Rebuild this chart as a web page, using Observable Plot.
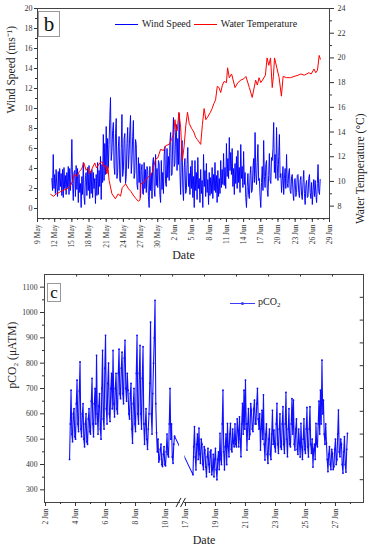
<!DOCTYPE html>
<html><head><meta charset="utf-8">
<script src="https://cdn.jsdelivr.net/npm/d3@7"></script>
<script src="https://cdn.jsdelivr.net/npm/@observablehq/plot@0.6"></script>
<style>
body{margin:0;background:#fff;font-family:"Liberation Serif","Times New Roman",serif;}
#wrap{position:relative;width:368px;height:550px;overflow:hidden;}
#wrap svg{display:block;}
#wrap svg text{font-family:"Liberation Serif","Times New Roman",serif !important;}
.box{position:absolute;border:1px solid #999;background:#fff;color:#111;display:flex;align-items:center;justify-content:center;box-sizing:border-box;font-family:"Liberation Serif",serif;line-height:1;}
.leg{position:absolute;display:flex;align-items:center;font-family:"Liberation Serif",serif;font-size:10px;color:#222;white-space:nowrap;line-height:1;}
.sw{display:inline-block;height:0;border-top:1px solid;position:relative;}
</style></head><body><div id="wrap"></div>
<script>
// ---------- Panel b data ----------
// day index counted from 1 May (June d = 31 + d)
const windStartDay = 11.5;
const windStep = 0.125;
const windSpeed = [
  3.0, 1.8, 5.4, 2.0, 3.4, 1.5, 3.9, 2.2,
  1.2, 3.7, 1.8, 4.0, 2.2, 3.5, 1.3, 3.9,
  1.1, 4.1, 2.0, 3.3, 1.4, 3.6, 2.1, 4.2,
  1.4, 4.0, 1.8, 3.4, 6.9, 2.5, 0.8, 3.6,
  3.8, 1.2, 4.3, 1.9, 4.0, 0.6, 3.4, 1.6,
  2.5, 0.1, 3.2, 1.4, 4.6, 1.2, 0.4, 3.3,
  3.6, 1.3, 4.1, 1.8, 4.3, 1.0, 3.7, 1.5,
  3.9, 1.1, 3.6, 2.0, 3.0, 0.5, 3.4, 1.3,
  4.6, 1.4, 3.8, 2.2, 5.2, 0.9, 4.4, 2.6,
  7.4, 2.8, 6.5, 3.4, 8.2, 3.6, 7.0, 4.1,
  6.4, 9.0, 11.1, 4.8, 5.7, 7.8, 8.6, 4.2,
  3.4, 7.5, 9.0, 3.0, 3.6, 6.2, 7.2, 2.8,
  2.6, 6.0, 9.4, 3.2, 3.8, 7.0, 7.5, 2.5,
  3.2, 6.5, 8.1, 4.0, 5.4, 7.8, 9.3, 3.5,
  4.7, 7.2, 8.8, 3.0, 3.6, 6.9, 6.4, 2.4,
  1.9, 5.1, 2.6, 4.5, 1.1, 3.8, 4.4, 1.5,
  1.4, 4.6, 2.0, 3.9, 1.6, 4.2, 3.8, 1.2,
  0.1, 4.2, 1.8, 3.5, 1.0, 4.6, 5.1, 2.0,
  1.2, 5.4, 2.3, 4.0, 2.1, 4.8, 4.5, 1.4,
  0.6, 4.8, 1.9, 3.6, 1.5, 5.4, 6.2, 2.5,
  2.2, 6.0, 3.1, 5.2, 2.8, 6.6, 7.6, 3.3,
  3.4, 7.0, 9.1, 4.2, 4.5, 7.6, 8.4, 3.8,
  7.0, 4.4, 9.5, 3.6, 1.4, 5.2, 6.8, 2.0,
  0.8, 4.1, 5.0, 1.5, 1.8, 4.4, 6.1, 2.2,
  3.5, 1.4, 4.2, 2.0, 4.8, 1.1, 3.2, 0.1,
  4.8, 1.8, 3.6, 0.9, 5.1, 2.0, 3.0, 0.6,
  3.9, 1.5, 2.8, 0.1, 5.4, 2.2, 3.8, 1.2,
  4.5, 1.6, 2.9, 0.4, 3.6, 1.3, 3.1, 1.5,
  4.1, 1.0, 3.4, 1.8, 4.6, 1.6, 3.3, 0.6,
  3.8, 1.2, 3.0, 1.5, 4.8, 2.1, 3.9, 2.4,
  5.5, 2.3, 4.1, 2.0, 6.5, 3.2, 5.0, 3.0,
  7.1, 3.8, 5.6, 3.4, 6.0, 2.2, 4.0, 1.4,
  4.5, 2.5, 5.2, 2.0, 5.8, 2.6, 4.1, 1.6,
  6.4, 3.0, 4.2, 2.1, 5.7, 2.4, 3.6, 1.1,
  0.1, 2.2, 3.5, 1.4, 1.0, 3.3, 4.2, 1.6,
  1.8, 3.9, 5.0, 2.6, 7.6, 3.5, 2.4, 4.6,
  6.4, 2.8, 3.0, 1.2, 0.1, 2.6, 4.2, 1.8,
  6.8, 3.2, 2.1, 4.4, 4.8, 1.9, 1.2, 3.3,
  5.5, 2.8, 2.5, 5.1, 4.8, 6.0, 8.6, 3.6,
  5.4, 3.0, 8.1, 4.4, 2.8, 5.2, 7.4, 3.1,
  3.5, 1.6, 2.8, 4.2, 1.4, 3.0, 4.0, 2.0,
  5.4, 2.5, 2.1, 3.6, 4.0, 1.8, 1.5, 3.2,
  3.4, 1.5, 0.8, 2.9, 3.0, 1.2, 1.6, 3.3,
  3.4, 1.6, 1.1, 2.8, 3.2, 1.3, 0.9, 2.6,
  3.8, 1.5, 0.4, 2.4, 2.8, 1.1, 1.2, 3.0,
  3.4, 1.6, 1.0, 2.6, 0.4, 1.8, 2.9, 1.2,
  2.8, 1.4, 0.6, 2.5, 4.4, 1.7, 1.4, 2.9
];
const tempDay = [11.3,11.8,12.3,12.8,13.1,13.6,14.1,14.5,14.8,15.2,15.4,15.9,16.3,16.7,17.1,17.5,17.8,18.1,18.5,19.0,19.3,19.9,20.3,20.6,20.9,21.1,21.3,21.5,22.0,22.6,23.1,23.5,23.8,24.4,24.9,25.3,25.7,26.2,26.6,26.9,27.0,27.5,28.2,28.7,29.1,29.6,30.0,30.5,31.0,31.4,32.0,32.4,32.8,33.0,33.2,33.4,33.7,34.0,34.3,34.6,34.9,35.2,35.5,35.9,36.3,36.6,36.9,37.2,37.5,37.8,38.1,38.4,38.7,39.2,39.5,39.8,40.1,40.4,40.7,41.0,41.3,41.6,42.0,42.2,42.5,42.9,43.5,44.0,44.5,45.0,45.4,46.0,46.5,47.1,47.4,47.7,48.0,48.3,48.8,49.1,49.4,49.7,50.0,50.2,50.4,50.8,51.2,51.6,51.9,52.5,53.2,53.8,54.5,55.0,55.6,56.4,56.8,57.3,57.6,57.9,58.2,58.4];
const tempValue = [8.95,8.8,9.0,9.1,9.2,9.3,9.4,9.5,9.7,10.1,10.6,10.4,10.8,11.0,11.5,10.9,11.1,10.6,11.0,11.5,11.1,11.5,11.6,11.2,11.3,10.6,11.2,10.1,9.0,8.6,9.0,8.8,9.5,9.8,9.4,9.2,8.9,8.6,8.4,8.5,9.8,9.9,10.3,10.5,10.8,11.8,11.9,12.6,12.5,12.9,13.0,13.4,13.8,15.0,14.3,14.1,15.6,14.4,11.7,12.8,14.5,15.6,14.7,14.3,14.0,13.6,13.4,13.2,13.0,14.6,15.9,15.0,15.2,15.6,15.9,16.3,16.6,17.7,17.6,17.2,17.8,18.1,18.0,19.2,18.4,18.7,17.6,18.0,18.2,18.3,18.5,17.6,16.8,18.2,17.8,18.4,18.0,18.2,18.6,20.0,19.4,20.0,17.6,18.5,20.0,19.2,18.4,16.9,18.5,18.4,18.4,18.5,18.6,18.7,18.6,18.8,18.7,19.1,18.8,19.0,20.2,19.9];
const bTickDays = [9,12,15,18,21,24,27,30,33,36,39,42,45,48,51,54,57,60];
const bTickLabels = ["9 May","12 May","15 May","18 May","21 May","24 May","27 May","30 May","2 Jun","5 Jun","8 Jun","11 Jun","14 Jun","17 Jun","20 Jun","23 Jun","26 Jun","29 Jun"];
const windTicks = [0,2,4,6,8,10,12,14,16,18,20];
const tempTicks = [8,10,12,14,16,18,20,22,24];
const windDomain = [-1, 20];
const tempDomain = [7, 24];

// ---------- Panel c data ----------
// day of June
const pco2Step = 0.05;
const pco2Seg1Start = 3.6;
const pco2Seg1 = [420,560,693,520,490,600,620,510,500,640,
  733,560,530,690,805,540,510,600,640,500,
  470,560,600,490,480,580,620,530,520,650,
  740,560,510,640,700,560,831,600,520,630,
  680,540,500,700,850,580,540,780,910,620,
  560,720,800,600,570,700,760,620,850,640,
  588,700,760,620,600,760,855,680,660,780,
  843,680,640,820,890,700,650,760,693,600,
  580,680,720,540,484,640,700,560,530,760,
  910,600,560,760,870,600,540,740,865,560,
  480,560,620,500,460,540,600,720,962,600,
  520,680,800,900,1048,640,525,450,500,410,
  420,460,480,400,392,440,470,400,395,450,
  520,440,430,560,700,500,560,430,405,480,
  512];
const pco2Seg2Start = 17.5;
const pco2Seg2 = [360,470,549,430,379,480,520,420,543,440,
  405,500,480,400,380,470,457,390,352,430,
  464,400,370,450,457,360,380,440,352,420,
  464,380,340,420,450,380,523,420,400,560,
  693,450,379,470,520,400,562,470,431,520,
  562,460,450,540,484,470,560,480,470,580,
  536,470,588,500,431,560,641,520,693,540,
  733,560,457,560,620,500,520,640,614,540,
  530,620,654,560,560,640,700,580,540,600,
  457,540,614,500,675,480,418,520,560,440,
  405,500,540,440,420,520,614,480,536,470,
  450,560,641,480,444,540,600,470,460,560,
  628,480,444,560,685,500,431,540,620,480,
  470,560,660,520,654,480,457,540,580,460,
  440,540,484,430,562,470,420,500,580,460,
  444,540,625,470,430,540,628,480,444,500,
  390,460,480,420,562,480,470,560,650,520,
  693,560,812,600,654,520,480,560,484,420,
  372,440,470,400,380,460,444,380,392,460,
  500,400,420,520,615,450,431,500,480,400,
  366,450,510,400,370,460,523];
const cTickDays = [2,4,6,8,10,17,19,21,23,25,27];
const cTickLabels = ["2 Jun","4 Jun","6 Jun","8 Jun","10 Jun","17 Jun","19 Jun","21 Jun","23 Jun","25 Jun","27 Jun"];
const cMinorDays = [3,5,7,9,18,20,22,24,26,28];
const pco2Ticks = [300,400,500,600,700,800,900,1000,1100];
const pco2Minor = [350,450,550,650,750,850,950,1050];
const breakFrom = 11.0, breakTo = 16.9, breakWidth = 0.23;
const cRightTicks = [340,430,520,610,700,790,880,970,1060];
const cTopTicks = [2.07,4.2,6.33,8.47,10.6,12.73,14.87,17.0,19.13];
const cDomainX = [-0.07, 21.2];
const cDomainY = [250, 1150];

// ---------- helpers ----------
const tempToWind = t => windDomain[0] + (t - tempDomain[0]) * (windDomain[1]-windDomain[0])/(tempDomain[1]-tempDomain[0]);
const windToTemp = w => tempDomain[0] + (w - windDomain[0]) * (tempDomain[1]-tempDomain[0])/(windDomain[1]-windDomain[0]);
const axisPos = d => d <= breakFrom ? d - 2 : d - breakTo + breakFrom + breakWidth - 2;

const windData = windSpeed.map((v,i)=>({day: windStartDay + i*windStep, v}));
const tempData = tempDay.map((d,i)=>({day: d, t: tempValue[i]}));
const pco2Data = [
  ...pco2Seg1.map((v,i)=>({day: pco2Seg1Start + i*pco2Step, v})),
  ...pco2Seg2.map((v,i)=>({day: pco2Seg2Start + i*pco2Step, v}))
];
const bLabelMap = new Map(bTickDays.map((d,i)=>[d,bTickLabels[i]]));
const cLabelMap = new Map(cTickDays.map((d,i)=>[axisPos(d),cTickLabels[i]]));

const font = "Liberation Serif";
const axisColor = "#333";
const fmtInt = d3.format("d");

const plotB = Plot.plot({
  width: 368, height: 266,
  marginTop: 8, marginBottom: 48, marginLeft: 37, marginRight: 39,
  style: {fontFamily: font, fontSize: "8px", color: axisColor, background: "white", overflow: "visible"},
  x: {domain: [9, 60], axis: null},
  y: {domain: windDomain, axis: null},
  marks: [
    Plot.line(windData, {x: "day", y: "v", stroke: "#0000ff", strokeWidth: 0.95}),
    Plot.line(tempData, {x: "day", y: d => tempToWind(d.t), stroke: "#ff0000", strokeWidth: 1}),
    Plot.frame({stroke: "#444"}),
    Plot.axisX(d3.range(9, 61), {tickSize: 2, tickFormat: () => "", label: null}),
    Plot.axisX(bTickDays, {tickSize: 4, tickPadding: 2, tickRotate: -90, fontSize: 7.5, tickFormat: d => bLabelMap.get(d), label: null}),
    Plot.axisY(d3.range(1, 20, 2), {tickSize: 2, tickFormat: () => "", label: null}),
    Plot.axisY(windTicks, {tickSize: 3, tickPadding: 2, fontSize: 8, tickFormat: fmtInt, label: null}),
    Plot.axisY(d3.range(9, 24, 2).map(tempToWind), {anchor: "right", tickSize: 2, tickFormat: () => "", label: null}),
    Plot.axisY(tempTicks.map(tempToWind), {anchor: "right", tickSize: 4, tickPadding: 4, fontSize: 8, tickFormat: d => Math.round(windToTemp(d)), label: null}),
    Plot.text(["Date"], {frameAnchor: "bottom", dy: 40, fontSize: 12, fill: "#222"}),
    Plot.text(["Wind Speed (ms⁻¹)"], {frameAnchor: "left", dx: -26, rotate: -90, fontSize: 11.5, fill: "#222"}),
    Plot.text(["Water Temperature (°C)"], {frameAnchor: "right", dx: 31, rotate: -90, fontSize: 11.5, fill: "#222"})
  ]
});

const breakLo = axisPos(breakFrom), breakHi = axisPos(breakTo);
const plotC = Plot.plot({
  width: 368, height: 284,
  marginTop: 8, marginBottom: 48, marginLeft: 44, marginRight: 5,
  style: {fontFamily: font, fontSize: "8px", color: axisColor, background: "white", overflow: "visible"},
  x: {domain: cDomainX, axis: null},
  y: {domain: cDomainY, axis: null},
  marks: [
    Plot.line(pco2Data, {x: d => axisPos(d.day), y: "v", stroke: "#1010ff", strokeWidth: 1.1}),
    Plot.dot(pco2Data, {x: d => axisPos(d.day), y: "v", r: 0.9, fill: "#1010ff", stroke: "none"}),
    Plot.rect([0], {x1: breakLo - 0.07, x2: breakHi + 0.06, y1: 256, y2: 1144, fill: "white"}),
    Plot.frame({stroke: "#444"}),
    Plot.rect([0], {x1: breakLo, x2: breakHi + 0.02, y1: 246, y2: 254, fill: "white"}),
    Plot.link([-0.2, 0.1], {x1: d => breakLo + d - 0.1, y1: 232, x2: d => breakLo + d + 0.23, y2: 268, stroke: "#222", strokeWidth: 1}),
    Plot.axisX(cMinorDays.map(axisPos), {tickSize: 2, tickFormat: () => "", label: null}),
    Plot.axisX(cTickDays.map(axisPos), {tickSize: 4, tickPadding: 2, tickRotate: -90, fontSize: 7.5, tickFormat: d => cLabelMap.get(d), label: null}),
    Plot.ruleX(cTopTicks, {x: d => d, y1: cDomainY[1], y2: cDomainY[1] - 10, stroke: "#333"}),
    Plot.ruleY(cRightTicks, {y: d => d, x1: cDomainX[1] - 0.22, x2: cDomainX[1], stroke: "#333"}),
    Plot.axisY(pco2Minor, {tickSize: 2, tickFormat: () => "", label: null}),
    Plot.axisY(pco2Ticks, {tickSize: 4, tickPadding: 3, fontSize: 7.7, tickFormat: fmtInt, label: null}),
    Plot.text(["Date"], {frameAnchor: "bottom", dy: 41, fontSize: 12, fill: "#222"}),
    Plot.text(["pCO₂ (μATM)"], {frameAnchor: "left", dx: -32, rotate: -90, fontSize: 11.5, fill: "#222"})
  ]
});

const wrap = document.getElementById("wrap");
wrap.appendChild(plotB);
wrap.appendChild(plotC);

function el(html){ const t = document.createElement("div"); t.innerHTML = html.trim(); return t.firstChild; }
wrap.appendChild(el(`<div class="box" style="left:38px;top:11px;width:22px;height:26px;font-size:21px;">b</div>`));
wrap.appendChild(el(`<div class="leg" style="left:115px;top:18px;height:12px;">
  <span class="sw" style="width:23px;border-color:#0000ff;margin-right:4px;"></span><span>Wind Speed</span>
  <span class="sw" style="width:23px;border-color:#ff0000;margin-left:3px;margin-right:4px;"></span><span>Water Temperature</span></div>`));
wrap.appendChild(el(`<div class="box" style="left:47px;top:283px;width:14px;height:19px;font-size:17px;">c</div>`));
wrap.appendChild(el(`<div class="leg" style="left:230px;top:297px;height:12px;">
  <span class="sw" style="width:25px;border-color:#3b3bff;margin-right:3px;"><span style="position:absolute;left:11px;top:-2px;width:3px;height:3px;border-radius:50%;background:#3b3bff;"></span></span><span>pCO<sub style="font-size:7px;vertical-align:-2px;">2</sub></span></div>`));
</script></body></html>
